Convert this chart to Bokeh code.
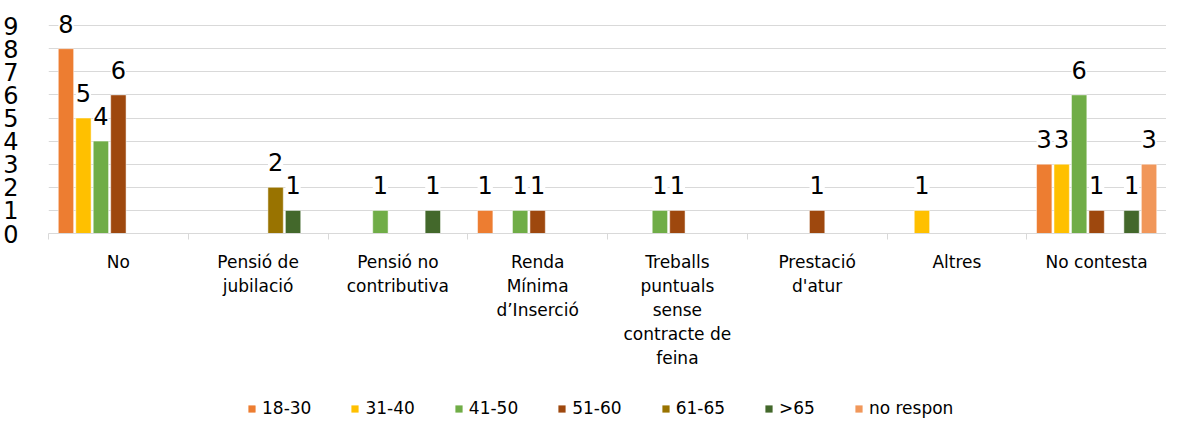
from bokeh.plotting import figure
from bokeh.models import (FixedTicker, LabelSet, ColumnDataSource, Legend,
                          LegendItem, Range1d)
from bokeh.layouts import column
from bokeh.core.properties import value
from bokeh.embed import file_html
from bokeh.resources import INLINE

categories = ["No", "Pensió de\njubilació", "Pensió no\ncontributiva",
              "Renda\nMínima\nd’Inserció",
              "Treballs\npuntuals\nsense\ncontracte de\nfeina",
              "Prestació\nd'atur", "Altres", "No contesta"]
series = ["18-30", "31-40", "41-50", "51-60", "61-65", ">65", "no respon"]
colors = ["#ED7D31", "#FFC000", "#70AD47", "#9E480E", "#997300", "#43682B", "#F1975A"]

v_18_30 = [8, 0, 0, 1, 0, 0, 0, 3]
v_31_40 = [5, 0, 0, 0, 0, 0, 1, 3]
v_41_50 = [4, 0, 1, 1, 1, 0, 0, 6]
v_51_60 = [6, 0, 0, 1, 1, 1, 0, 1]
v_61_65 = [0, 2, 0, 0, 0, 0, 0, 0]
v_65plus = [0, 1, 1, 0, 0, 0, 0, 1]
v_no_respon = [0, 0, 0, 0, 0, 0, 0, 3]
values = [v_18_30, v_31_40, v_41_50, v_51_60, v_61_65, v_65plus, v_no_respon]
y_ticks = list(range(0, 10))

n_cat = len(categories)
n_ser = len(series)
slot = 1.0 / (n_ser + 1)
bar_w = slot * 0.88
FONT = "DejaVu Sans"

p = figure(width=1166, height=394, x_range=Range1d(0, n_cat), y_range=Range1d(0, 10),
           output_backend="svg", toolbar_location=None,
           min_border_left=44, min_border_right=0, min_border_top=2,
           min_border_bottom=161, outline_line_color=None)

lx, ly, lt = [], [], []
for j, (name, col, vals) in enumerate(zip(series, colors, values)):
    xs = [i + slot * (j + 1) for i in range(n_cat) if vals[i] != 0]
    ys = [vals[i] for i in range(n_cat) if vals[i] != 0]
    src = ColumnDataSource(dict(x=xs, top=ys))
    p.vbar(x="x", top="top", width=bar_w, bottom=0, source=src,
           fill_color=col, line_color="white", line_width=0.5)
    lx += xs
    ly += ys
    lt += [str(v) for v in ys]

lsrc = ColumnDataSource(dict(x=lx, y=ly, t=lt))
labels = LabelSet(x="x", y="y", text="t", source=lsrc, text_align="center",
                  text_baseline="middle", y_offset=25,
                  text_font_size=value("24px"), text_font=value(FONT),
                  text_color="black", background_fill_color="white")
p.add_layout(labels)

# y axis
p.yaxis.ticker = FixedTicker(ticks=y_ticks)
p.yaxis.axis_line_color = None
p.yaxis.major_tick_line_color = None
p.yaxis.minor_tick_line_color = None
p.yaxis.major_label_text_font_size = "24px"
p.yaxis.major_label_text_font = FONT
p.yaxis.major_label_text_color = "black"
p.yaxis.major_label_standoff = 24

# x axis
centers = [i + 0.5 for i in range(n_cat)]
p.xaxis.ticker = FixedTicker(ticks=centers, minor_ticks=list(range(0, n_cat + 1)))
p.xaxis.major_label_overrides = {c: lab for c, lab in zip(centers, categories)}
p.xaxis.axis_line_color = "#d9d9d9"
p.xaxis.major_tick_line_color = None
p.xaxis.minor_tick_line_color = "#d9d9d9"
p.xaxis.minor_tick_out = 6
p.xaxis.minor_tick_in = 0
p.xaxis.major_label_text_font_size = "17px"
p.xaxis.major_label_text_font = FONT
p.xaxis.major_label_text_color = "black"
p.xaxis.major_label_text_line_height = 1.2
p.xaxis.major_label_standoff = 12

p.xgrid.grid_line_color = None
p.ygrid.grid_line_color = "#d9d9d9"
p.ygrid.ticker = FixedTicker(ticks=y_ticks)

# legend in its own strip below the chart
p2 = figure(width=1166, height=24, x_range=Range1d(0, 1), y_range=Range1d(0, 1),
            output_backend="svg", toolbar_location=None, outline_line_color=None,
            min_border_left=0, min_border_right=0, min_border_top=0, min_border_bottom=0)
p2.axis.visible = False
p2.grid.visible = False
items = []
for name, col in zip(series, colors):
    r = p2.vbar(x=[10], top=[1], width=0.1, fill_color=col, line_color=None)
    items.append(LegendItem(label=name, renderers=[r]))
legend = Legend(items=items, orientation="horizontal", location=(199, 0),
                border_line_color=None, background_fill_alpha=0,
                label_text_font_size="17px", label_text_font=FONT,
                label_text_color="black",
                glyph_width=9, glyph_height=9, spacing=39, label_standoff=6,
                margin=0, padding=0)
p2.add_layout(legend)

layout = column(p, p2, spacing=0)
open("out.html", "w").write(file_html(layout, INLINE))
